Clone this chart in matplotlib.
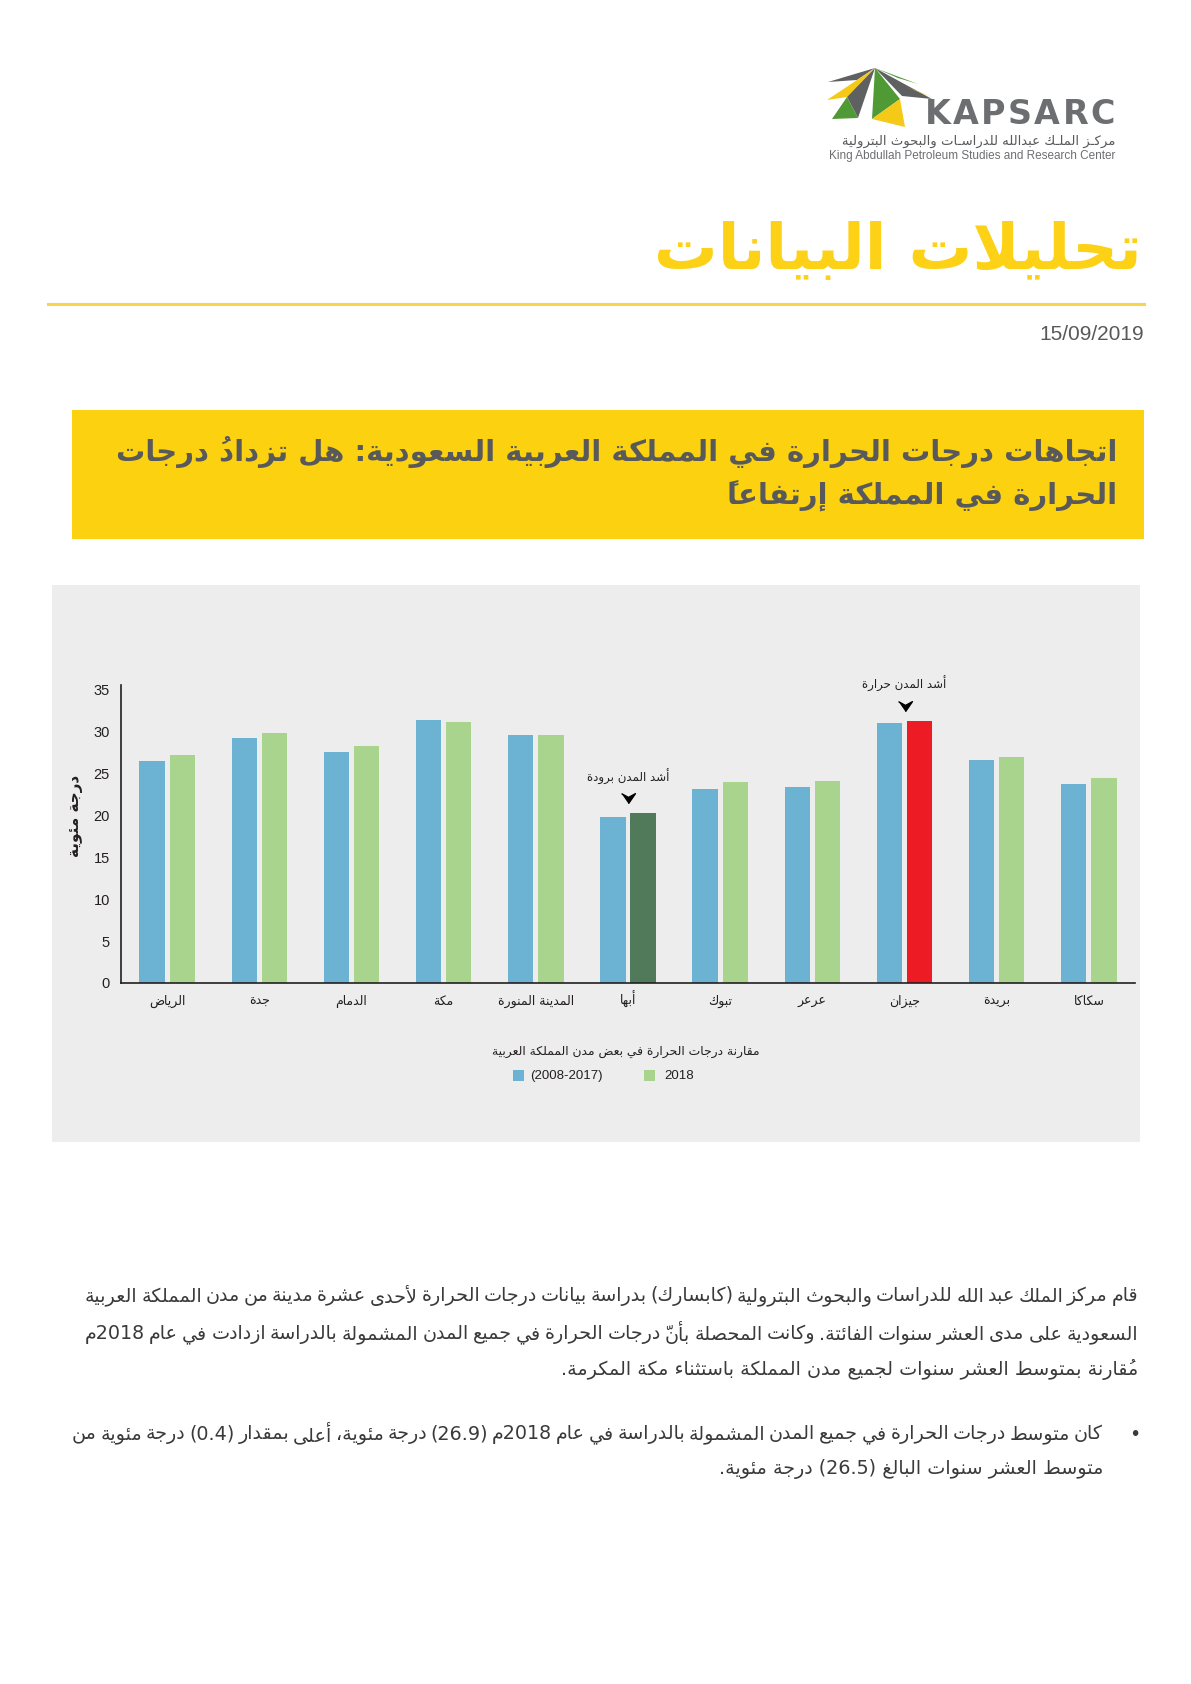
import re
import matplotlib
matplotlib.use('Agg')
import matplotlib.pyplot as plt
from matplotlib.patches import Rectangle, Polygon

# ---------------- data ----------------
cities = ['الرياض', 'جدة', 'الدمام', 'مكة', 'المدينة المنورة', 'أبها',
          'تبوك', 'عرعر', 'جيزان', 'بريدة', 'سكاكا']
avg_2008_2017 = [26.5, 29.2, 27.5, 31.3, 29.5, 19.8, 23.1, 23.4, 31.0, 26.6, 23.7]
temp_2018 = [27.2, 29.75, 28.2, 31.1, 29.6, 20.2, 23.9, 24.1, 31.25, 26.9, 24.4]
yticks = [0, 5, 10, 15, 20, 25, 30, 35]
legend_labels = ['(2008-2017)', '2018']

page_title = 'تحليلات البيانات'
date_text = '15/09/2019'
headline = ['اتجاهات درجات الحرارة في المملكة العربية السعودية: هل تزدادُ درجات',
            'الحرارة في المملكة إرتفاعاً']
ylabel = 'درجة مئوية'
chart_title = 'مقارنة درجات الحرارة في بعض مدن المملكة العربية'
note_cold = 'أشد المدن برودة'
note_hot = 'أشد المدن حرارة'
logo_ar = 'مركـز الملـك عبدالله للدراسـات والبحوث البترولية'
logo_en = 'King Abdullah Petroleum Studies and Research Center'
body = ['قام مركز الملك عبد الله للدراسات والبحوث البترولية (كابسارك) بدراسة بيانات درجات الحرارة لأحدى عشرة مدينة من مدن المملكة العربية',
        'السعودية على مدى العشر سنوات الفائتة. وكانت المحصلة بأنّ درجات الحرارة في جميع المدن المشمولة بالدراسة ازدادت في عام 2018م',
        'مُقارنة بمتوسط العشر سنوات لجميع مدن المملكة باستثناء مكة المكرمة.']
bullet = ['كان متوسط درجات الحرارة في جميع المدن المشمولة بالدراسة في عام 2018م (26.9) درجة مئوية، أعلى بمقدار (0.4) درجة مئوية من',
          'متوسط العشر سنوات البالغ (26.5) درجة مئوية.']

# ---------------- arabic shaping (matplotlib has no RTL support) ----------------
DUAL = {0x0626: 0xFE89, 0x0628: 0xFE8F, 0x062A: 0xFE95, 0x062B: 0xFE99, 0x062C: 0xFE9D,
        0x062D: 0xFEA1, 0x062E: 0xFEA5, 0x0633: 0xFEB1, 0x0634: 0xFEB5, 0x0635: 0xFEB9,
        0x0636: 0xFEBD, 0x0637: 0xFEC1, 0x0638: 0xFEC5, 0x0639: 0xFEC9, 0x063A: 0xFECD,
        0x0641: 0xFED1, 0x0642: 0xFED5, 0x0643: 0xFED9, 0x0644: 0xFEDD, 0x0645: 0xFEE1,
        0x0646: 0xFEE5, 0x0647: 0xFEE9, 0x064A: 0xFEF1}
RIGHT = {0x0622: 0xFE81, 0x0623: 0xFE83, 0x0624: 0xFE85, 0x0625: 0xFE87, 0x0627: 0xFE8D,
         0x0629: 0xFE93, 0x062F: 0xFEA9, 0x0630: 0xFEAB, 0x0631: 0xFEAD, 0x0632: 0xFEAF,
         0x0648: 0xFEED, 0x0649: 0xFEEF}
LAMALEF = {0x0622: 0xFEF5, 0x0623: 0xFEF7, 0x0625: 0xFEF9, 0x0627: 0xFEFB}
MARKS = set(range(0x064B, 0x0653)) | {0x0670}
TATWEEL = 0x0640


def shape(s):
    n = len(s)

    def near(i, step):
        j = i + step
        while 0 <= j < n and ord(s[j]) in MARKS:
            j += step
        return j if 0 <= j < n else None

    out = []
    i = 0
    while i < n:
        o = ord(s[i])
        if o in MARKS:
            out.append(s[i])
            i += 1
            continue
        p = near(i, -1)
        p_join = p is not None and (ord(s[p]) in DUAL or ord(s[p]) == TATWEEL)
        nx = near(i, 1)
        if o == 0x0644 and nx is not None and ord(s[nx]) in LAMALEF:
            out.append(chr(LAMALEF[ord(s[nx])] + (1 if p_join else 0)))
            out.extend(s[i + 1:nx])
            i = nx + 1
            continue
        n_join = nx is not None and (ord(s[nx]) in DUAL or ord(s[nx]) in RIGHT
                                     or ord(s[nx]) == TATWEEL)
        if o in DUAL:
            f = 3 if (p_join and n_join) else 2 if n_join else 1 if p_join else 0
            out.append(chr(DUAL[o] + f))
        elif o in RIGHT:
            out.append(chr(RIGHT[o] + (1 if p_join else 0)))
        else:
            out.append(s[i])
        i += 1
    return ''.join(out)


def ar(s):
    # numbers keep their own order, everything else is reversed (marks land before their base)
    toks = re.findall(r'[0-9A-Za-z]+(?:[.,/\-][0-9A-Za-z]+)*|.', shape(s))
    mirror = {'(': ')', ')': '('}
    return ''.join(mirror.get(t, t) for t in reversed(toks))


# ---------------- figure ----------------
W, H = 1191, 1684
fig = plt.figure(figsize=(W / 100, H / 100), dpi=100)
fig.patch.set_facecolor('white')
pg = fig.add_axes([0, 0, 1, 1])
pg.set_xlim(0, W)
pg.set_ylim(H, 0)
pg.axis('off')
R = fig.canvas.get_renderer()

AR = ['DejaVu Sans']
YELLOW = '#FCD116'
GREY_TXT = '#58595B'
BLUE = '#6CB2D2'
GREEN = '#A9D48E'
DARK_GREEN = '#517A5B'
RED = '#ED1C24'


def fit(x, y, s, width, ha='right', **kw):
    t = pg.text(x, y, s, ha=ha, va='center', fontsize=20, **kw)
    w = t.get_window_extent(R).width
    t.set_fontsize(20 * width / w)
    return t


def justify(x0, x1, y, s, **kw):
    words = s.split(' ')
    ts = [pg.text(0, y, w, ha='left', va='center', **kw) for w in words]
    ws = [t.get_window_extent(R).width for t in ts]
    gap = (x1 - x0 - sum(ws)) / (len(words) - 1)
    x = x0
    for t, w in zip(ts, ws):
        t.set_x(x)
        x += w + gap


# logo
A = (875, 68)
logo = [([A, (828, 82), (857, 80)], '#5F6062'),
        ([A, (827, 100), (847, 97)], '#F5C918'),
        ([A, (847, 97), (858, 118)], '#5F6062'),
        ([(847, 97), (858, 118), (832, 119)], '#4F9A35'),
        ([A, (872, 119), (900, 99)], '#4F9A35'),
        ([(872, 119), (900, 99), (905, 127)], '#F5C918'),
        ([A, (932, 99), (902, 96)], '#5F6062'),
        ([A, (918, 84), (898, 78)], '#4F9A35'),
        ([(906, 87), (934, 98), (920, 92)], '#F5C918')]
for pts, c in logo:
    pg.add_patch(Polygon(pts, closed=True, facecolor=c, edgecolor='none'))
justify(925, 1115, 115, 'K A P S A R C', fontsize=24, fontweight='bold',
        color='#6D6E71', family=['DejaVu Sans'])
pg.text(1115, 141, ar(logo_ar), ha='right', va='center', fontsize=9.5,
        color='#58595B', family=AR)
fit(1115, 156, logo_en, 286, color='#6D6E71', family=['Liberation Sans'])

# header
fit(1142, 252, ar(page_title), 487, color=YELLOW, family=AR, fontweight='bold')
pg.plot([48, 1144], [304, 304], color='#F9D54E', lw=2.2)
pg.text(1144, 335, date_text, ha='right', va='center', fontsize=15,
        color=GREY_TXT, family=['Liberation Sans'])

# headline box
pg.add_patch(Rectangle((72, 410), 1072, 129, facecolor='#FCD10F', edgecolor='none'))
t1 = fit(1117, 452, ar(headline[0]), 1001, color=GREY_TXT, family=AR, fontweight='bold')
pg.text(1117, 496, ar(headline[1]), ha='right', va='center', fontsize=t1.get_fontsize(),
        color=GREY_TXT, family=AR, fontweight='bold')

# chart panel
pg.add_patch(Rectangle((52, 585), 1088, 557, facecolor='#EDEDED', edgecolor='none'))

ax = fig.add_axes([121 / W, (H - 983) / H, 1014 / W, 298 / H])
ax.set_facecolor('none')
ax.set_zorder(2)
x = list(range(len(cities)))
bw = 0.274
off = 0.164
cols_2018 = [GREEN] * len(cities)
i_cold = temp_2018.index(min(temp_2018))
i_hot = temp_2018.index(max(temp_2018))
cols_2018[i_cold] = DARK_GREEN
cols_2018[i_hot] = RED
ax.bar([i - off for i in x], avg_2008_2017, width=bw, color=BLUE)
ax.bar([i + off for i in x], temp_2018, width=bw, color=cols_2018)
ax.set_xlim(-0.5, len(cities) - 0.5)
ax.set_ylim(0, 35.5)
ax.set_yticks(yticks)
ax.set_yticklabels([str(v) for v in yticks], family=['Liberation Sans'], fontsize=10.5)
ax.set_xticks(x)
ax.set_xticklabels([ar(c) for c in cities], family=AR, fontsize=9, color='#231F20',
                   va='baseline')
ax.tick_params(length=0, colors='#231F20')
ax.tick_params(axis='y', pad=8)
ax.tick_params(axis='x', pad=16)
for sp in ['top', 'right']:
    ax.spines[sp].set_visible(False)
for sp in ['left', 'bottom']:
    ax.spines[sp].set_linewidth(1.2)
    ax.spines[sp].set_color('#231F20')
ax.set_ylabel(ar(ylabel), family=AR, fontsize=11, fontweight='bold', color='#231F20')
ax.yaxis.set_label_coords(-0.037, 0.56)

chev = [(-1, 0.7), (0, 0.15), (1, 0.7), (0, -0.75)]
for i, s in [(i_cold, note_cold), (i_hot, note_hot)]:
    top = temp_2018[i]
    ax.plot([i], [top + 1.8], marker=chev, markersize=10, color='black', clip_on=False)
    ax.text(i, top + 4.4, ar(s), ha='center', va='center', fontsize=8.5,
            family=AR, color='#231F20')

# legend
fit(626, 1051, ar(chart_title), 270, ha='center', color='#231F20', family=AR)
pg.add_patch(Rectangle((513, 1070), 11, 11, facecolor=BLUE, edgecolor='none'))
pg.text(530, 1076, legend_labels[0], ha='left', va='center', fontsize=9.5,
        color='#231F20', family=['Liberation Sans'])
pg.add_patch(Rectangle((644, 1070), 11, 11, facecolor=GREEN, edgecolor='none'))
pg.text(664, 1076, legend_labels[1], ha='left', va='center', fontsize=9.5,
        color='#231F20', family=['Liberation Sans'])

# body text
BODY = '#3A3A3C'
t3 = fit(1138, 1369, ar(body[2]), 577, color=BODY, family=AR)
fs = t3.get_fontsize()
justify(85, 1138, 1296, ar(body[0]), fontsize=fs, color=BODY, family=AR)
justify(85, 1138, 1334, ar(body[1]), fontsize=fs, color=BODY, family=AR)
pg.text(1135, 1434, '•', ha='center', va='center', fontsize=fs, color=BODY)
justify(72, 1103, 1434, ar(bullet[0]), fontsize=fs, color=BODY, family=AR)
pg.text(1103, 1469, ar(bullet[1]), ha='right', va='center', fontsize=fs,
        color=BODY, family=AR)

fig.savefig('out.png', dpi=100)
